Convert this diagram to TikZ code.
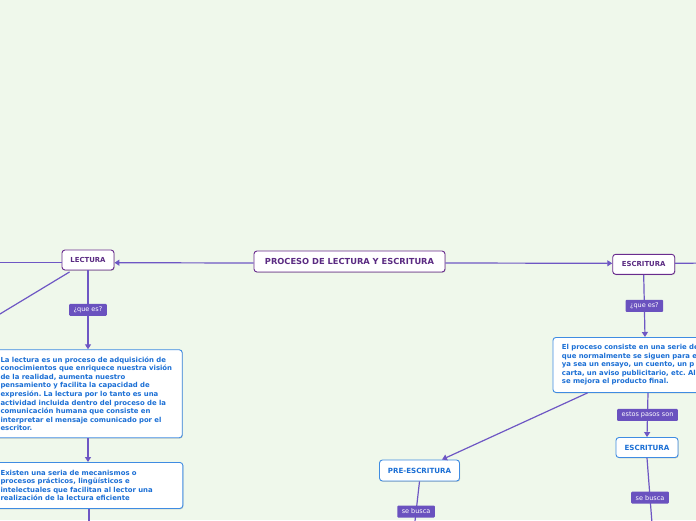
\documentclass[tikz,border=0pt]{standalone}
\usepackage{fontspec}
\setmainfont{DejaVu Sans}
\frenchspacing
\usetikzlibrary{arrows.meta,shadows,calc}
\definecolor{bg}{HTML}{EFF8EB}
\definecolor{conn}{HTML}{6E57C4}
\definecolor{purp}{HTML}{6A2C8E}
\definecolor{purptext}{HTML}{5A2A82}
\definecolor{blueb}{HTML}{3F8CE2}
\definecolor{bluet}{HTML}{1B6FD5}
\definecolor{lblfill}{HTML}{6A52BF}
\begin{document}
\begin{tikzpicture}[x=1pt,y=-1pt,
  link/.style={draw=conn,line width=1.2pt},
  arr/.style={link,-{Triangle[length=5pt,width=6pt]}},
  shad/.style={drop shadow={shadow xshift=0.6pt,shadow yshift=-0.8pt,opacity=0.3,fill=black!60}},
  topic/.style={draw=purp,line width=0.9pt,fill=white,rounded corners=3pt,text=purptext,
    font=\fontsize{6.9}{8}\selectfont\bfseries,inner sep=0pt,shad},
  root/.style={topic,font=\fontsize{8.3}{9}\selectfont\bfseries},
  sub/.style={draw=blueb,line width=0.9pt,fill=white,rounded corners=3pt,text=bluet,
    font=\fontsize{7.1}{8}\selectfont\bfseries,inner sep=0pt,shad},
  box/.style={draw=blueb,line width=0.9pt,fill=white,rounded corners=3pt,text=bluet,
    font=\fontsize{6.9}{8.56}\selectfont\bfseries\frenchspacing,align=left,inner xsep=9pt,inner ysep=0pt,shad},
  lbl/.style={fill=lblfill,text=white,font=\fontsize{6.5}{7}\selectfont,inner xsep=4.5pt,
    inner ysep=0pt,minimum height=12pt,rounded corners=1pt}]
\useasboundingbox (0,0) rectangle (696,520);
\fill[bg] (0,0) rectangle (696,520);

% nodes
\node[root,minimum width=191pt,minimum height=21pt] (root) at (349.5,261.5) {PROCESO DE LECTURA Y ESCRITURA};
\node[topic,minimum width=52pt,minimum height=20pt] (lect) at (88,260) {LECTURA};
\node[topic,minimum width=62pt,minimum height=20pt] (escr) at (643.7,264.3) {ESCRITURA};
\node[sub,minimum width=80pt,minimum height=21pt] (pre) at (419.5,470.5) {PRE-ESCRITURA};
\node[sub,minimum width=62pt,minimum height=20pt] (escr2) at (647,447.5) {ESCRITURA};

\node[box,text width=172.7pt,minimum height=88pt,anchor=north east] (def1) at (182.7,349.3)
 {La lectura es un proceso de adquisición de\\
  conocimientos que enriquece nuestra visión\\
  de la realidad, aumenta nuestro\\
  pensamiento y facilita la capacidad de\\
  expresión. La lectura por lo tanto es una\\
  actividad incluida dentro del proceso de la\\
  comunicación humana que consiste en\\
  interpretar el mensaje comunicado por el\\
  escritor.};
\node[box,text width=173.3pt,minimum height=46pt,anchor=north east] (def2) at (183.3,462)
 {Existen una seria de mecanismos o\\
  procesos prácticos, lingüísticos e\\
  intelectuales que facilitan al lector una\\
  realización de la lectura eficiente};
\node[box,text width=200pt,minimum height=55pt,anchor=north west] (def3) at (552.5,337)
 {El proceso consiste en una serie de\\
  que normalmente se siguen para e\\
  ya sea un ensayo, un cuento, un p\\
  carta, un aviso publicitario, etc. Al\\
  se mejora el producto final.};

% free ends
\coordinate (e1) at (710,263);
\coordinate (l1) at (-10,262.3);
\coordinate (l2) at (-10,320);
\coordinate (l3) at (89,530);
\coordinate (p1) at (414,530);
\coordinate (p2) at (652.5,530);

% connectors
\draw[arr] ($(root.west)+(0,1.5)$) -- ($(lect.east)+(0,2.7)$);
\draw[arr] ($(root.east)+(0,1.5)$) -- ($(escr.west)+(0,-1)$);
\draw[link] ($(escr.east)+(0,-1)$) -- (e1);
\draw[link] ($(lect.west)+(0,2.3)$) -- (l1);
\draw[link] ($(lect.south west)+(8,1.5)$) -- (l2);
\draw[arr] (lect.south) -- node[lbl]{¿que es?} (lect.south |- def1.north);
\draw[arr] (lect.south |- def1.south) -- (lect.south |- def2.north);
\draw[link] ($(lect.south |- def2.south)+(1,0)$) -- (l3);
\draw[arr] (escr.south) -- node[lbl]{¿que es?} ($(def3.north west)+(92.5,0)$);
\draw[arr] ($(def3.south west)+(35,0)$) -- ($(pre.north)+(22.5,0)$);
\draw[arr] ($(def3.south west)+(95.5,0)$) -- node[lbl]{estos pasos son} (escr2.north);
\draw[link] (pre.south) -- node[lbl,pos=0.62]{se busca} (p1);
\draw[link] (escr2.south) -- node[lbl,pos=0.55]{se busca} (p2);
\end{tikzpicture}
\end{document}
